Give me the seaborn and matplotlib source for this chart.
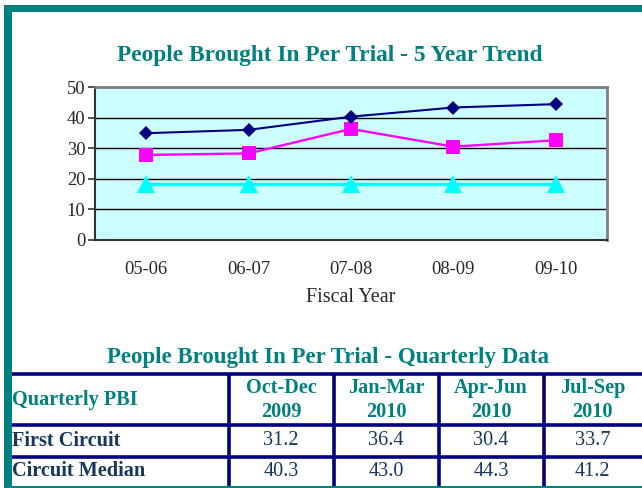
import matplotlib
matplotlib.use("Agg")
import matplotlib.pyplot as plt
import seaborn as sns
import pandas as pd
import numpy as np

# trend chart data
years = ['05-06', '06-07', '07-08', '08-09', '09-10']
circuit_median = [34.9, 36.0, 40.3, 43.3, 44.4]
first_circuit = [27.8, 28.3, 36.3, 30.5, 32.6]
third_series = [18.3, 18.3, 18.3, 18.3, 18.3]

# quarterly table data
quarters = ['Oct-Dec\n2009', 'Jan-Mar\n2010', 'Apr-Jun\n2010', 'Jul-Sep\n2010']
row_labels = ['First Circuit', 'Circuit Median']
first_q = [31.2, 36.4, 30.4, 33.7]
median_q = [40.3, 43.0, 44.3, 41.2]

TEAL = '#008080'
NAVY = '#000080'
TXT = '#17375E'

sns.set_style('white')
plt.rcParams['font.family'] = ['Liberation Serif', 'DejaVu Serif']

W, H = 642, 488
fig = plt.figure(figsize=(W / 100, H / 100), dpi=100)
fig.patch.set_facecolor('white')

# background/overlay axes in pixel coordinates
bg = fig.add_axes([0, 0, 1, 1])
bg.set_xlim(0, W)
bg.set_ylim(H, 0)
bg.axis('off')

# teal frame
bg.fill_between([4, W], 5, 12, color=TEAL, lw=0)
bg.fill_between([4, 11.5], 5, H, color=TEAL, lw=0)
bg.fill_between([4, W], 485.5, H, color=TEAL, lw=0)

# ---- trend chart ----
df = pd.DataFrame({
    'x': list(range(len(years))) * 3,
    'value': circuit_median + first_circuit + third_series,
    'series': ['Circuit Median'] * 5 + ['First Circuit'] * 5 + ['Other'] * 5,
})

ax = fig.add_axes([95 / W, 1 - 240 / H, 512 / W, 153 / H])
ax.set_facecolor('#CCFFFF')
styles = {
    'Circuit Median': dict(color=NAVY, marker='D', ms=6.9, lw=1.5, z=4),
    'First Circuit': dict(color='#FF00FF', marker='s', ms=10.5, lw=1.7, z=3),
    'Other': dict(color='#00FFFF', marker='^', ms=12.5, lw=2.4, z=2),
}
for name, st in styles.items():
    sns.lineplot(data=df[df['series'] == name], x='x', y='value', ax=ax,
                 color=st['color'], marker=st['marker'], markersize=st['ms'],
                 markeredgewidth=0, linewidth=st['lw'], zorder=st['z'],
                 legend=False)

ax.set_xlim(-0.5, len(years) - 0.5)
ax.set_ylim(0, 50)
ax.set_yticks(range(0, 51, 10))
ax.grid(axis='y', color='black', lw=1)
ax.set_axisbelow(True)
ax.set_xticks(np.arange(-0.5, len(years), 1))
ax.set_xticklabels([])
ax.set_xticks(range(len(years)), minor=True)
ax.set_xticklabels(years, minor=True)
ax.tick_params(axis='x', which='major', length=5, width=1.2, color='#333333', direction='out')
ax.tick_params(axis='x', which='minor', length=0, pad=15, labelsize=13.3)
ax.tick_params(axis='y', length=5, width=1.2, color='#333333', labelsize=13.3, pad=2, left=True)
ax.set_xlabel('Fiscal Year', fontsize=14.5, labelpad=7)
ax.set_ylabel('')
for side in ['top', 'right']:
    ax.spines[side].set_color('#808080')
    ax.spines[side].set_linewidth(2)
for side in ['left', 'bottom']:
    ax.spines[side].set_color('#333333')
    ax.spines[side].set_linewidth(1.5)

bg.text(330, 55, 'People Brought In Per Trial - 5 Year Trend', color=TEAL,
        fontsize=16.8, fontweight='bold', ha='center', va='center')

# ---- quarterly table ----
bg.text(328, 357, 'People Brought In Per Trial - Quarterly Data', color=TEAL,
        fontsize=16.5, fontweight='bold', ha='center', va='center')

col_edges = [229, 333.5, 438.5, 543.5, W]
row_edges = [374, 425, 456.5, 485.5]
for y in row_edges[:-1]:
    bg.plot([11.5, W], [y, y], color=NAVY, lw=2.6, solid_capstyle='butt')
for x in col_edges[:-1]:
    bg.plot([x, x], [row_edges[0], row_edges[-1]], color=NAVY, lw=2.6, solid_capstyle='butt')

bg.text(12, 400, 'Quarterly PBI', color=TEAL, fontsize=14.6, fontweight='bold',
        ha='left', va='center')
for i, q in enumerate(quarters):
    cx = (col_edges[i] + col_edges[i + 1]) / 2
    top, bottom = q.split('\n')
    bg.text(cx, 388, top, color=TEAL, fontsize=14.6, fontweight='bold', ha='center', va='center')
    bg.text(cx, 412, bottom, color=TEAL, fontsize=14.6, fontweight='bold', ha='center', va='center')

for r, (label, vals) in enumerate(zip(row_labels, [first_q, median_q])):
    cy = (row_edges[r + 1] + row_edges[r + 2]) / 2
    bg.text(12, cy, label, color=TXT, fontsize=14.6, fontweight='bold', ha='left', va='center')
    for i, v in enumerate(vals):
        cx = (col_edges[i] + col_edges[i + 1]) / 2
        bg.text(cx, cy, f'{v:.1f}', color=TXT, fontsize=14.6, ha='center', va='center')

fig.savefig('out.png', dpi=100)
